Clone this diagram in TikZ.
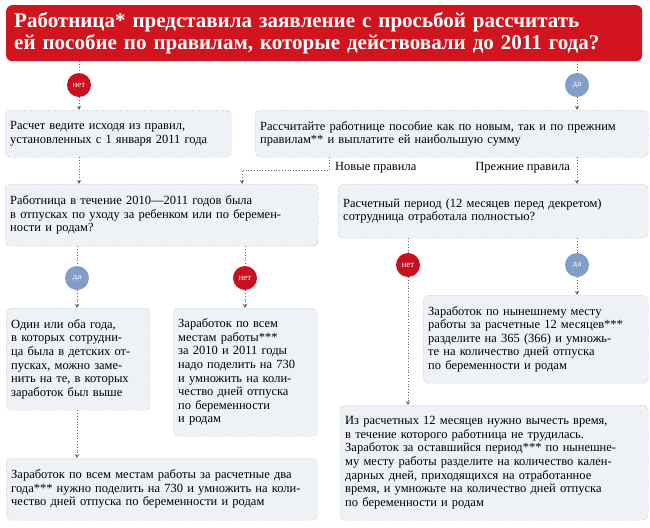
\documentclass[tikz,border=0pt]{standalone}
\usepackage{fontspec}
\setmainfont{Liberation Serif}
\usetikzlibrary{arrows.meta}
\definecolor{titlered}{HTML}{D2141E}
\definecolor{dotred}{HTML}{C8101E}
\definecolor{dotblue}{HTML}{829DC8}
\definecolor{boxfill}{HTML}{EEF1F6}
\tikzset{
	box/.style={draw=black!60, dotted, rounded corners=5pt, fill=boxfill, align=left, anchor=north west, inner sep=5pt, font=\fontsize{12.5}{13.6}\selectfont},
	no/.style={circle, fill=dotred, text=white, minimum size=24pt, inner sep=0pt, font=\fontsize{9}{9}\selectfont},
	yes/.style={no, fill=dotblue},
	link/.style={draw=black!60, dotted, thick},
	arr/.style={link, -{Stealth[length=4pt,width=4pt]}},
	lbl/.style={font=\fontsize{12.5}{13}\selectfont, inner sep=1pt}
}
\begin{document}
\begin{tikzpicture}[x=1pt,y=-1pt]
	\useasboundingbox (0,0) rectangle (650,527);
	% title
	\node[fill=titlered, rounded corners=6pt, anchor=north west, minimum width=636pt, minimum height=56pt, text width=620pt, align=left, text=white, font=\bfseries\fontsize{21}{22}\selectfont] (title) at (6,5) {Работница* представила заявление с просьбой рассчитать\\ей пособие по правилам, которые действовали до 2011 года?};
	
	\node[no] (noA) at (79,85) {нет};
	\node[yes] (yesB) at (577,85) {да};
	
	\node[box, text width=216pt, minimum height=47pt] (boxA) at (5,110) {Расчет ведите исходя из правил,\\установленных с 1 января 2011 года};
	\node[box, text width=383pt, minimum height=47pt] (boxB) at (255,110) {Рассчитайте работнице пособие как по новым, так и по прежним\\правилам** и выплатите ей наибольшую сумму};
	
	% new / old rules
	\coordinate (knew) at (329,170);
	\coordinate (knewdrop) at (242,170);
	\node[lbl, anchor=west] (lnew) at (334,168) {Новые правила};
	\node[lbl, anchor=east] (lold) at (571,168) {Прежние правила};
	
	\node[box, text width=303pt, minimum height=62pt] (boxC) at (5,184) {Работница в течение 2010---2011 годов была\\в отпусках по уходу за ребенком или по беремен-\\ности и родам?};
	\node[box, text width=300pt, minimum height=54pt] (boxD) at (338,184) {Расчетный период (12 месяцев перед декретом)\\сотрудница отработала полностью?};
	
	\node[yes] (yesC) at (77,278) {да};
	\node[no] (noC) at (245,278) {нет};
	\node[no] (noD) at (408,265) {нет};
	\node[yes] (yesD) at (577,265) {да};
	
	\node[box, text width=134pt, minimum height=102pt] (boxE) at (6,308) {Один или оба года,\\в которых сотрудни-\\ца была в детских от-\\пусках, можно заме-\\нить на те, в которых\\заработок был выше};
	\node[box, text width=134pt, minimum height=128pt] (boxF) at (173,308) {Заработок по всем\\местам работы***\\за 2010 и 2011 годы\\надо поделить на 730\\и умножить на коли-\\чество дней отпуска\\по беременности\\и родам};
	\node[box, text width=215pt, minimum height=88pt] (boxH) at (423,295) {Заработок по нынешнему месту\\работы за расчетные 12 месяцев***\\разделите на 365 (366) и умножь-\\те на количество дней отпуска\\по беременности и родам};
	\node[box, text width=301pt, minimum height=62pt] (boxG) at (6,458) {Заработок по всем местам работы за расчетные два\\года*** нужно поделить на 730 и умножить на коли-\\чество дней отпуска по беременности и родам};
	\node[box, text width=298pt, minimum height=115pt] (boxI) at (340,405) {Из расчетных 12 месяцев нужно вычесть время,\\в течение которого работница не трудилась.\\Заработок за оставшийся период*** по нынешне-\\му месту работы разделите на количество кален-\\дарных дней, приходящихся на отработанное\\время, и умножьте на количество дней отпуска\\по беременности и родам};
	
	% connectors
	\draw[link] (title.south -| noA) -- (noA);
	\draw[arr] (noA) -- (boxA.north -| noA);
	\draw[link] (title.south -| yesB) -- (yesB);
	\draw[arr] (yesB) -- (boxB.north -| yesB);
	\draw[arr] (boxA.south -| noA) -- (boxC.north -| noA);
	\draw[arr] (boxB.south -| knew) -- (knew) -- (knewdrop) -- (boxC.north -| knewdrop);
	\draw[arr] (boxB.south -| yesB) -- (boxD.north -| yesB);
	
	\draw[link] (boxC.south -| yesC) -- (yesC);
	\draw[arr] (yesC) -- (boxE.north -| yesC);
	\draw[link] (boxC.south -| noC) -- (noC);
	\draw[arr] (noC) -- (boxF.north -| noC);
	\draw[arr] (boxE.south -| yesC) -- (boxG.north -| yesC);
	
	\draw[link] (boxD.south -| noD) -- (noD);
	\draw[arr] (noD) -- (boxI.north -| noD);
	\draw[link] (boxD.south -| yesD) -- (yesD);
	\draw[arr] (yesD) -- (boxH.north -| yesD);
\end{tikzpicture}
\end{document}
